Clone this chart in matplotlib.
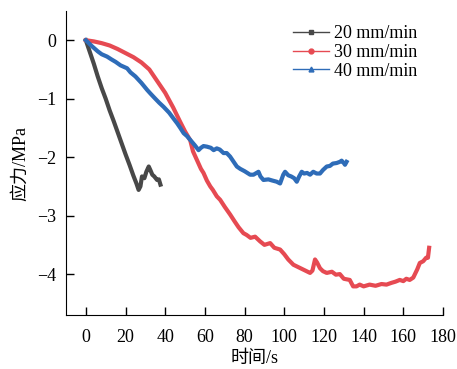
import matplotlib
matplotlib.use("Agg")
import matplotlib.pyplot as plt
from matplotlib.lines import Line2D

plt.rcParams["font.family"] = ["Liberation Serif", "Noto Sans CJK SC"]
plt.rcParams["axes.unicode_minus"] = True

# 20 mm/min
t20 = [0, 2, 4, 6, 8, 10, 12, 14, 16, 18, 20, 22, 24, 25.5, 26.6, 27.5, 28.3,
       29.5, 30.5, 31.7, 32.5, 33.5, 34.5, 35.9, 36.8, 37.6]
s20 = [0, -0.2, -0.4, -0.62, -0.82, -1.0, -1.2, -1.38, -1.57, -1.76, -1.95,
       -2.13, -2.32, -2.45, -2.56, -2.5, -2.33, -2.36, -2.25, -2.16, -2.22,
       -2.3, -2.33, -2.39, -2.38, -2.47]

# 30 mm/min
t30 = [0, 4, 8, 12, 16, 20, 24, 28, 32, 36, 40, 44, 47.6, 50, 52.6, 54, 56, 58,
       59.3, 61, 62.7, 64, 66, 67.7, 70, 72.7, 75, 77, 79.4, 81, 83, 85.3, 87.8,
       90, 92.9, 95, 97.9, 100, 102, 104.6, 107, 110, 113, 114.2, 115.5, 116.5,
       118, 119.5, 121.4, 124, 126, 128, 130, 133, 134.7, 136.4, 138, 140, 143,
       146, 149, 151.5, 154, 156, 158.2, 160, 161.5, 163.2, 165, 167, 168.3,
       170, 171.5, 172.4, 173]
s30 = [0, -0.02, -0.05, -0.09, -0.15, -0.22, -0.29, -0.38, -0.5, -0.7, -0.9,
       -1.15, -1.4, -1.56, -1.71, -1.9, -2.05, -2.2, -2.27, -2.4, -2.5, -2.56,
       -2.67, -2.73, -2.85, -2.98, -3.1, -3.2, -3.3, -3.33, -3.38, -3.36, -3.44,
       -3.5, -3.47, -3.55, -3.58, -3.66, -3.75, -3.84, -3.88, -3.93, -3.98,
       -3.94, -3.75, -3.8, -3.9, -3.95, -3.98, -3.96, -4.01, -4.0, -4.08, -4.1,
       -4.21, -4.21, -4.18, -4.21, -4.18, -4.2, -4.17, -4.18, -4.15, -4.13,
       -4.1, -4.12, -4.08, -4.1, -4.06, -3.92, -3.81, -3.78, -3.72, -3.72, -3.55]

# 40 mm/min
t40 = [0, 3, 6, 8, 10.7, 13, 15, 17.5, 20.8, 22.5, 25, 28, 30.9, 32.5, 35, 37,
       39.2, 42, 44.2, 46, 47.6, 49.3, 51, 53, 55, 56.8, 58, 59.3, 61, 63, 64.4,
       66, 67.5, 69.4, 71, 72.7, 74.5, 76.1, 77.8, 80, 82.8, 84.5, 86, 87, 88,
       89.5, 92, 94, 96.2, 97.9, 99.5, 100.4, 102, 103.5, 105, 106.3, 107.5,
       108.8, 110, 111.5, 113, 114.6, 116.3, 118, 119.5, 121.4, 123, 124.5,
       126.4, 128, 128.9, 130, 130.6, 131.4]
s40 = [0, -0.1, -0.19, -0.24, -0.28, -0.33, -0.37, -0.43, -0.48, -0.55, -0.62,
       -0.73, -0.85, -0.91, -1.0, -1.07, -1.14, -1.24, -1.34, -1.42, -1.5,
       -1.59, -1.64, -1.72, -1.8, -1.88, -1.84, -1.81, -1.82, -1.84, -1.88,
       -1.85, -1.87, -1.93, -1.93, -1.99, -2.08, -2.16, -2.2, -2.24, -2.3, -2.3,
       -2.27, -2.25, -2.33, -2.39, -2.38, -2.4, -2.42, -2.45, -2.3, -2.25, -2.31,
       -2.33, -2.36, -2.42, -2.33, -2.25, -2.28, -2.27, -2.3, -2.25, -2.28,
       -2.28, -2.22, -2.16, -2.15, -2.11, -2.1, -2.08, -2.06, -2.1, -2.13, -2.08]

labels = ["20 mm/min", "30 mm/min", "40 mm/min"]
colors = ["#484848", "#e64a52", "#2e6cb8"]
markers = ["s", "o", "^"]

fig = plt.figure(figsize=(4.57, 3.69), dpi=100)
ax = fig.add_axes([0.1444, 0.1463, 0.825, 0.8239])

for t, s, c in zip([t20, t30, t40], [s20, s30, s40], colors):
    ax.plot(t, s, color=c, lw=3.0, solid_joinstyle="round")

handles = [Line2D([], [], color=c, marker=m, lw=1, ms=3.5)
           for c, m in zip(colors, markers)]
ax.legend(handles, labels, loc="upper right", bbox_to_anchor=(0.941, 0.966),
          bbox_transform=fig.transFigure, frameon=False, fontsize=13,
          handlelength=2.0, labelspacing=0.1, handletextpad=0.3,
          borderpad=0.2)

ax.set_xlim(-10, 180)
ax.set_ylim(-4.7, 0.5)
ax.set_xticks(range(0, 181, 20))
ax.set_yticks([0, -1, -2, -3, -4])
ax.tick_params(direction="in", length=6, width=1, labelsize=13)
ax.tick_params(axis="x", pad=10)
ax.tick_params(axis="y", pad=7)
ax.spines["top"].set_visible(False)
ax.spines["right"].set_visible(False)
ax.set_xlabel("时间/s", fontsize=13, labelpad=3)
ax.set_ylabel("应力/MPa", fontsize=13, labelpad=6)

fig.savefig("out.png", dpi=100)
